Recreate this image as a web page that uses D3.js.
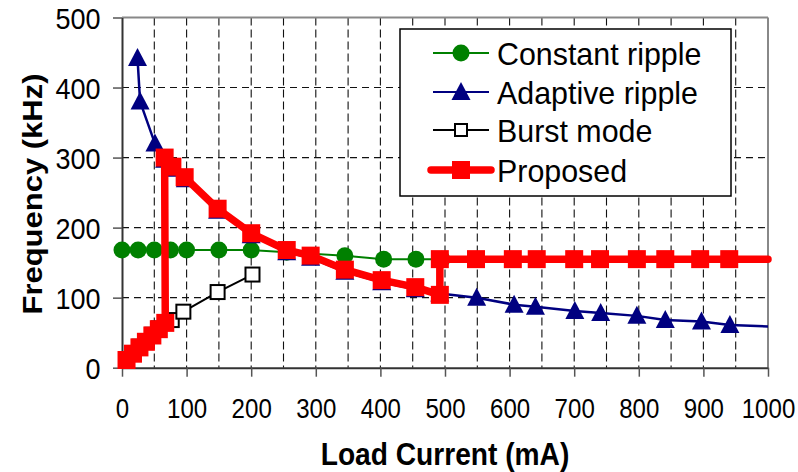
<!DOCTYPE html>
<html><head><meta charset="utf-8">
<script src="https://cdn.jsdelivr.net/npm/d3@7"></script>
<style>body{margin:0;background:#fff}svg{display:block}</style>
</head><body>
<svg id="c" width="798" height="472"></svg>
<script>
// ---- data (Load current mA, Frequency kHz) ----
const xTicks = [0,100,200,300,400,500,600,700,800,900,1000];
const yTicks = [0,100,200,300,400,500];
const xGrid = [50,100,150,200,250,300,350,400,450,500,550,600,650,700,750,800,850,900,950];
const yGrid = [100,200,300,400];

const seriesNames = ["Constant ripple","Adaptive ripple","Burst mode","Proposed"];

const constantRipple = [[0,168],[25,168],[50,168],[75,168],[100,168],[150,168],[200,168],[255,165],[345,160],[405,155],[455,155],[495,155]];

const adaptiveRipple = [[24,442],[28,380],[51,320],[66,297],[80,284],[98,269],[148,224],[200,189],[255,165],[292,157],[345,137],[402,122],[454,112],[492,106],[549,100],[607,90],[640,87],[701,81],[741,78],[797,74],[841,68],[897,66],[941,61]];
const adaptiveTail = [[1000,59]];

const burstMode = [[7,11],[17,21],[27,30],[37,38],[47,47],[57,56],[77,68],[95,80],[148,108],[202,133]];

const proposed = [[7,11],[17,20],[27,29],[37,37],[47,46],[57,55],[67,64],[66,300],[78,287],[97,272],[148,227],[200,192],[255,168],[292,160],[345,140],[402,125],[454,115],[492,104],[492,155],[548,155],[605,155],[642,155],[700,155],[740,155],[797,155],[841,155],[895,155],[940,155]];
const proposedTail = [[1000,155]];

// ---- chart ----
const svg = d3.select("#c");
const FONT = "'Liberation Sans', Arial, sans-serif";
const x = d3.scaleLinear().domain([0,1000]).range([122,768]);
const y = d3.scaleLinear().domain([0,500]).range([367.7,17.5]);

// grid
svg.append("g").selectAll("line").data(xGrid).join("line")
  .attr("x1", d=>x(d)).attr("x2", d=>x(d)).attr("y1", y(500)).attr("y2", y(0))
  .attr("stroke","#111").attr("stroke-width",1.1).attr("stroke-dasharray","8,4");
svg.append("g").selectAll("line").data(yGrid).join("line")
  .attr("x1", x(0)).attr("x2", x(1000)).attr("y1", d=>y(d)).attr("y2", d=>y(d))
  .attr("stroke","#111").attr("stroke-width",1.1).attr("stroke-dasharray","7,5");

// frame (top, right gray)
svg.append("line").attr("x1",x(0)).attr("x2",x(1000)).attr("y1",y(500)).attr("y2",y(500))
  .attr("stroke","#888").attr("stroke-width",2);
svg.append("line").attr("x1",x(1000)).attr("x2",x(1000)).attr("y1",y(500)).attr("y2",y(0))
  .attr("stroke","#888").attr("stroke-width",2);

// axes
const xAxis = svg.append("g").attr("transform",`translate(0,${y(0)})`)
  .call(d3.axisBottom(x).tickValues(xTicks).tickFormat(d3.format("d")).tickSize(9).tickSizeOuter(0));
xAxis.select(".domain").attr("stroke","#333").attr("stroke-width",2);
xAxis.selectAll(".tick line").attr("stroke","#555").attr("stroke-width",1.5);
xAxis.selectAll(".tick text").attr("y",50).attr("dy",0)
  .attr("font-family",FONT).attr("font-size",28).attr("fill","#000")
  .attr("transform","scale(0.86,1)");

const yAxis = svg.append("g").attr("transform",`translate(${x(0)},0)`)
  .call(d3.axisLeft(y).tickValues(yTicks).tickFormat(d3.format("d")).tickSize(9).tickSizeOuter(0));
yAxis.select(".domain").attr("stroke","#333").attr("stroke-width",2);
yAxis.selectAll(".tick line").attr("stroke","#555").attr("stroke-width",1.5);
yAxis.selectAll(".tick text").attr("x",-24).attr("dy","0.36em")
  .attr("font-family",FONT).attr("font-size",30).attr("fill","#000")
  .attr("transform","scale(0.9,1)");

// titles
svg.append("text").attr("transform","translate(445,465) scale(0.88,1)")
  .attr("text-anchor","middle").attr("font-family",FONT).attr("font-weight","bold")
  .attr("font-size",32).text("Load Current (mA)");
svg.append("text").attr("transform","translate(42,194) scale(0.9,1) rotate(-90)")
  .attr("text-anchor","middle").attr("font-family",FONT).attr("font-weight","bold")
  .attr("font-size",31).text("Frequency (kHz)");

const line = d3.line().x(d=>x(d[0])).y(d=>y(d[1]));

// marker helpers
function circle(g, cx, cy){ g.append("circle").attr("cx",cx).attr("cy",cy).attr("r",8.5).attr("fill","#008000"); }
function tri(g, cx, cy){ g.append("path").attr("d",`M${cx},${cy-10}L${cx+9.5},${cy+8}L${cx-9.5},${cy+8}Z`).attr("fill","#000080"); }
function openSq(g, cx, cy){ g.append("rect").attr("x",cx-7).attr("y",cy-7).attr("width",14).attr("height",14).attr("fill","#fff").attr("stroke","#000").attr("stroke-width",2); }
function redSq(g, cx, cy){ g.append("rect").attr("x",cx-9).attr("y",cy-9).attr("width",18).attr("height",18).attr("fill","#ff0000"); }

// constant ripple
const gC = svg.append("g");
gC.append("path").attr("d",line(constantRipple)).attr("fill","none").attr("stroke","#008000").attr("stroke-width",2);
constantRipple.forEach(d=>circle(gC,x(d[0]),y(d[1])));

// adaptive ripple
const gA = svg.append("g");
gA.append("path").attr("d",line(adaptiveRipple.concat(adaptiveTail))).attr("fill","none").attr("stroke","#000080").attr("stroke-width",2.5);
adaptiveRipple.forEach(d=>tri(gA,x(d[0]),y(d[1])));

// burst mode
const gB = svg.append("g");
gB.append("path").attr("d",line(burstMode)).attr("fill","none").attr("stroke","#000").attr("stroke-width",2);
burstMode.forEach(d=>openSq(gB,x(d[0]),y(d[1])));

// proposed
const gP = svg.append("g");
gP.append("path").attr("d",line(proposed.concat(proposedTail))).attr("fill","none").attr("stroke","#ff0000")
  .attr("stroke-width",7.5).attr("stroke-linejoin","round").attr("stroke-linecap","round");
proposed.forEach(d=>redSq(gP,x(d[0]),y(d[1])));

// legend
const lg = svg.append("g");
lg.append("rect").attr("x",400).attr("y",29).attr("width",331).attr("height",167)
  .attr("fill","#fff").attr("stroke","#000").attr("stroke-width",1.5);
const rows = [53,92,130,170];
const colors = ["#008000","#000080","#000","#ff0000"];
seriesNames.forEach((name,i)=>{
  const ry = rows[i];
  if(i===3){
    lg.append("line").attr("x1",431).attr("x2",491).attr("y1",ry).attr("y2",ry)
      .attr("stroke",colors[i]).attr("stroke-width",7.5).attr("stroke-linecap","round");
  } else {
    lg.append("line").attr("x1",433).attr("x2",489).attr("y1",ry).attr("y2",ry)
      .attr("stroke",colors[i]).attr("stroke-width",2);
  }
  if(i===0) circle(lg,461,ry);
  if(i===1) tri(lg,461,ry);
  if(i===2) { lg.append("rect").attr("x",455).attr("y",ry-6).attr("width",12).attr("height",12).attr("fill","#fff").attr("stroke","#000").attr("stroke-width",2); }
  if(i===3) redSq(lg,461,ry);
  lg.append("text").attr("transform",`translate(497,${ry+11.5}) scale(0.98,1)`)
    .attr("font-family",FONT).attr("font-size",31).attr("fill","#000").text(name);
});
</script>
</body></html>
